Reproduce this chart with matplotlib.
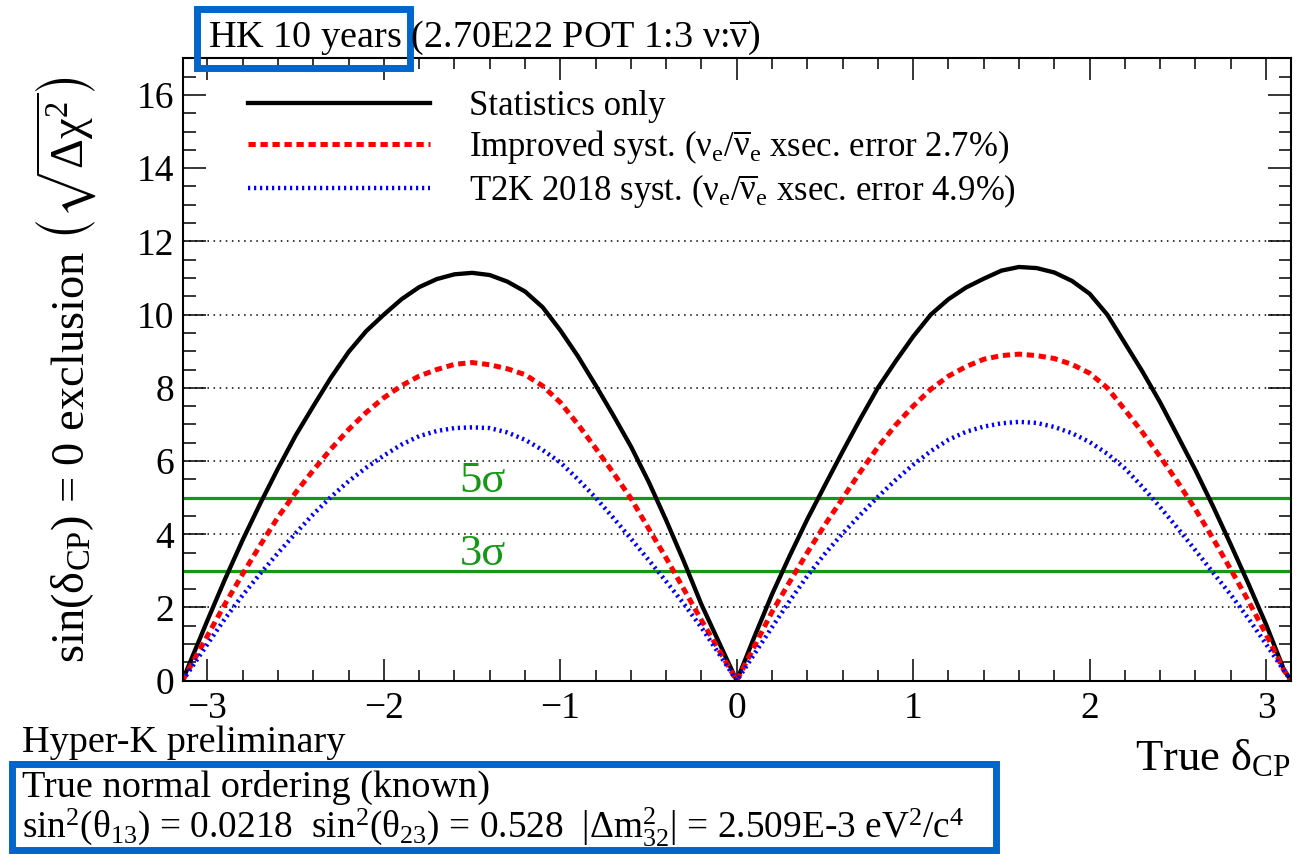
import matplotlib
matplotlib.use('Agg')
import matplotlib.pyplot as plt
import matplotlib.ticker as mtick
from matplotlib.patches import Rectangle

plt.rcParams['font.family'] = ['Liberation Serif', 'DejaVu Serif']
plt.rcParams['mathtext.fontset'] = 'custom'
plt.rcParams['mathtext.rm'] = 'Liberation Serif'
plt.rcParams['mathtext.it'] = 'Liberation Serif:italic'
plt.rcParams['mathtext.bf'] = 'Liberation Serif:bold'
plt.rcParams['mathtext.fallback'] = 'stix'

delta_cp = [-3.1416, -3.1, -3.0, -2.9, -2.8, -2.7, -2.6, -2.5, -2.4, -2.3, -2.2,
            -2.1, -2.0, -1.9, -1.8, -1.7, -1.6, -1.5, -1.4, -1.3, -1.2, -1.1,
            -1.0, -0.9, -0.8, -0.7, -0.6, -0.5, -0.4, -0.3, -0.2, -0.1, 0.0,
            0.1, 0.2, 0.3, 0.4, 0.5, 0.6, 0.7, 0.8, 0.9, 1.0, 1.1,
            1.2, 1.3, 1.4, 1.5, 1.6, 1.7, 1.8, 1.9, 2.0, 2.1, 2.2,
            2.3, 2.4, 2.5, 2.6, 2.7, 2.8, 2.9, 3.0, 3.1, 3.1416]

# sqrt(delta chi^2) for sin(delta_CP) = 0 exclusion
stat_only = [0.0, 0.49, 1.65, 2.78, 3.85, 4.85, 5.8, 6.7, 7.5, 8.28, 8.98,
             9.55, 10.0, 10.42, 10.75, 10.97, 11.1, 11.14, 11.08, 10.9, 10.63, 10.2,
             9.57, 8.86, 8.07, 7.25, 6.4, 5.44, 4.38, 3.26, 2.08, 1.04, 0.0,
             1.2, 2.36, 3.41, 4.41, 5.34, 6.26, 7.15, 8.0, 8.72, 9.4, 10.0,
             10.42, 10.74, 10.98, 11.2, 11.3, 11.27, 11.15, 10.92, 10.57, 10.0, 9.22,
             8.44, 7.6, 6.68, 5.75, 4.76, 3.72, 2.65, 1.54, 0.32, 0.0]
improved_syst = [0.0, 0.36, 1.23, 2.1, 2.92, 3.71, 4.47, 5.14, 5.75, 6.33, 6.86,
                 7.33, 7.73, 8.06, 8.32, 8.5, 8.64, 8.69, 8.63, 8.52, 8.36, 8.05,
                 7.6, 7.0, 6.35, 5.68, 4.98, 4.16, 3.35, 2.5, 1.65, 0.83, 0.0,
                 0.94, 1.88, 2.7, 3.5, 4.26, 4.98, 5.7, 6.38, 6.98, 7.5, 7.96,
                 8.32, 8.58, 8.78, 8.88, 8.92, 8.88, 8.8, 8.64, 8.4, 8.0, 7.4,
                 6.78, 6.12, 5.42, 4.68, 3.88, 3.04, 2.18, 1.27, 0.3, 0.0]
t2k_syst = [0.0, 0.29, 1.0, 1.7, 2.34, 2.93, 3.49, 4.03, 4.55, 5.02, 5.45,
            5.82, 6.15, 6.45, 6.68, 6.82, 6.9, 6.92, 6.9, 6.78, 6.58, 6.3,
            5.96, 5.5, 5.0, 4.45, 3.88, 3.3, 2.71, 2.1, 1.45, 0.73, 0.0,
            0.73, 1.46, 2.18, 2.86, 3.47, 4.02, 4.53, 5.02, 5.48, 5.9, 6.27,
            6.58, 6.8, 6.94, 7.03, 7.07, 7.04, 6.93, 6.76, 6.52, 6.2, 5.8,
            5.29, 4.74, 4.16, 3.56, 2.95, 2.35, 1.7, 1.0, 0.29, 0.0]

grid_levels = [2, 4, 6, 8, 10, 12]
sigma_levels = [3, 5]
sigma_labels = ['3σ', '5σ']

labels = ['Statistics only',
          r'Improved syst. ($\mathrm{\nu_e}/\overline{\mathrm{\nu}}_\mathrm{e}$ xsec. error 2.7%)',
          r'T2K 2018 syst. ($\mathrm{\nu_e}/\overline{\mathrm{\nu}}_\mathrm{e}$ xsec. error 4.9%)']

W, H = 1302, 859
fig = plt.figure(figsize=(W / 100, H / 100), dpi=100)
ax = fig.add_axes([182.5 / W, 1 - 680.7 / H, (1291 - 182.5) / W, (680.7 - 58.3) / H])

green = '#149914'
ax.hlines(grid_levels, -3.1416, 3.1416, colors='black', linestyles=(0, (1, 3)), linewidth=1.1)
for lev, lab in zip(sigma_levels, sigma_labels):
    ax.axhline(lev, color=green, linewidth=2.3)
    ax.text(-1.44, lev - 0.08, lab, color=green, fontsize=32, ha='center', va='bottom')

l1, = ax.plot(delta_cp, stat_only, color='black', linewidth=3.1)
l2, = ax.plot(delta_cp, improved_syst, color='#ff0000', linewidth=3.6, dashes=(1.45, 0.95))
l3, = ax.plot(delta_cp, t2k_syst, color='#0000ff', linewidth=3.2, dashes=(0.5, 0.85))

ax.set_xlim(-3.1416, 3.1416)
ax.set_ylim(0, 17)
ax.xaxis.set_major_locator(mtick.MultipleLocator(1))
ax.xaxis.set_minor_locator(mtick.MultipleLocator(0.2))
ax.yaxis.set_major_locator(mtick.MultipleLocator(2))
ax.yaxis.set_minor_locator(mtick.MultipleLocator(0.5))
ax.tick_params(which='both', direction='in', top=True, right=True, width=1.1, labelsize=27)
ax.tick_params(axis='x', which='major', length=16, pad=8)
ax.tick_params(axis='x', which='minor', length=8)
ax.tick_params(axis='y', which='major', length=16.5, pad=6)
ax.tick_params(axis='y', which='minor', length=9)
for s in ax.spines.values():
    s.set_linewidth(1.5)

ax.legend([l1, l2, l3], labels, loc='upper left', bbox_to_anchor=(0.0465, 0.971),
          frameon=False, fontsize=25, handlelength=5.24, handletextpad=1.12,
          labelspacing=0.15, borderaxespad=0)

ax.set_ylabel(r'sin($\mathrm{\delta_{CP}}$) = 0 exclusion $\left(\sqrt{\mathrm{\Delta\chi^{2}}}\right)$',
              fontsize=33.5)
ax.yaxis.set_label_coords(-0.076, 0.5)
fig.text(1290 / W, 1 - 770 / H, r'True $\mathrm{\delta_{CP}}$', fontsize=32, ha='right', va='baseline')

fig.text(208 / W, 1 - 46.7 / H, r'HK 10 years (2.70E22 POT 1:3 $\mathrm{\nu}$:$\overline{\mathrm{\nu}}$)',
         fontsize=27.5, va='baseline')
fig.text(22 / W, 1 - 752 / H, 'Hyper-K preliminary', fontsize=27.5, va='baseline')
fig.text(22 / W, 1 - 797 / H, 'True normal ordering (known)', fontsize=27.5, va='baseline')
fig.text(22 / W, 1 - 838 / H,
         r'sin$^2$($\mathrm{\theta_{13}}$) = 0.0218  sin$^2$($\mathrm{\theta_{23}}$) = 0.528  '
         r'|$\mathrm{\Delta m^2_{32}}$| = 2.509E-3 eV$^2$/c$^4$', fontsize=26.9, va='baseline')

blue = '#0066cc'
fig.add_artist(Rectangle((197 / W, 1 - 68 / H), 213 / W, 59 / H, transform=fig.transFigure,
                         fill=False, edgecolor=blue, linewidth=5))
fig.add_artist(Rectangle((12 / W, 1 - 850 / H), 984 / W, 86 / H, transform=fig.transFigure,
                         fill=False, edgecolor=blue, linewidth=5))

fig.savefig('out.png', dpi=100)
